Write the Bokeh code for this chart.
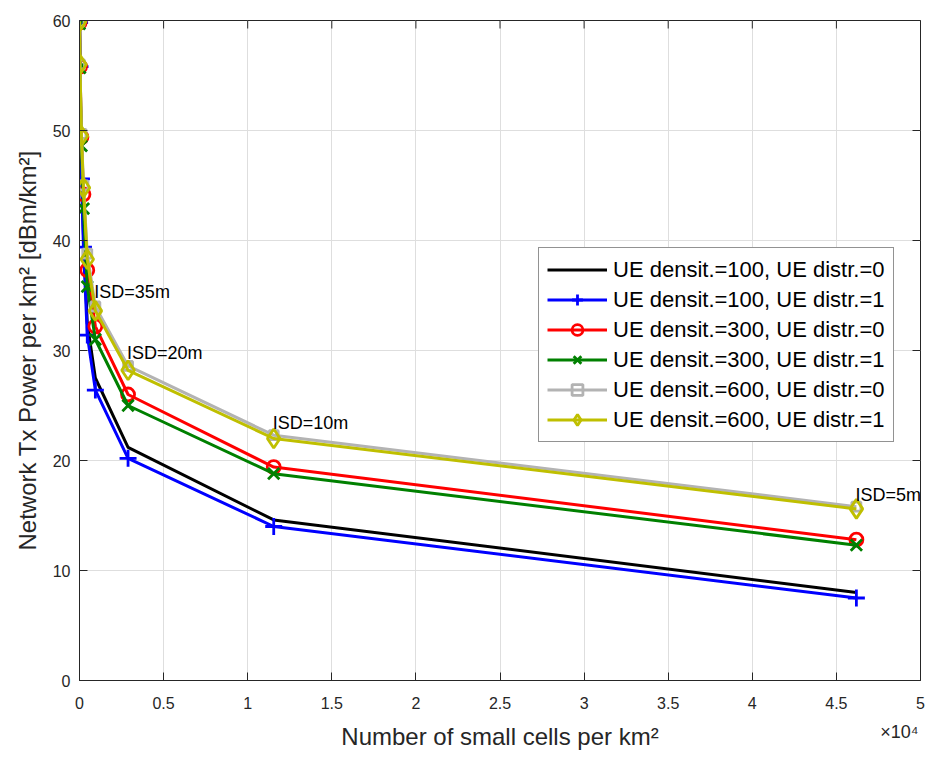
from math import pi
from bokeh.plotting import figure
from bokeh.models import (Range1d, FixedTicker, Legend, LegendItem, LinearAxis,
                          LabelSet, ColumnDataSource)
from bokeh.core.properties import value
from bokeh.embed import file_html
from bokeh.resources import INLINE

# ---------------- data ----------------
cells_per_km2 = [4.6, 28.9, 115.5, 235.7, 461.9, 942.6, 2886.8, 11547.0, 46188.0]

pw_100_d0 = [59.8, 55.8, 46.5, 40.5, 32.5, 27.5, 21.2, 14.6, 8.0]
pw_100_d1 = [59.8, 55.8, 45.6, 39.4, 31.4, 26.4, 20.2, 14.0, 7.5]
pw_300_d0 = [59.8, 55.8, 49.4, 44.2, 37.3, 32.2, 26.0, 19.4, 12.8]
pw_300_d1 = [59.7, 55.7, 48.6, 42.9, 35.8, 31.0, 25.0, 18.8, 12.3]
pw_600_d0 = [59.9, 56.0, 49.7, 45.0, 38.8, 34.0, 28.6, 22.3, 15.8]
pw_600_d1 = [59.9, 56.0, 49.5, 44.8, 38.3, 33.6, 28.2, 22.0, 15.6]

series_names = ["UE densit.=100, UE distr.=0", "UE densit.=100, UE distr.=1",
                "UE densit.=300, UE distr.=0", "UE densit.=300, UE distr.=1",
                "UE densit.=600, UE distr.=0", "UE densit.=600, UE distr.=1"]

isd_cells = [942.6, 2886.8, 11547.0, 46188.0]
isd_text = ["ISD=35m", "ISD=20m", "ISD=10m", "ISD=5m"]
isd_text_y = [35.3, 29.8, 23.4, 16.9]

x_ticks = [0, 0.5, 1, 1.5, 2, 2.5, 3, 3.5, 4, 4.5, 5]
x_tick_labels = ["0", "0.5", "1", "1.5", "2", "2.5", "3", "3.5", "4", "4.5", "5"]
y_ticks = [0, 10, 20, 30, 40, 50, 60]
x_scale = 1e4
x_exponent_text = "×10⁴"
x_label = "Number of small cells per km²"
y_label = "Network Tx Power per km² [dBm/km²]"
x_min, x_max, y_min, y_max = 0, 5, 0, 60

# ---------------- styles ----------------
FONT = "Liberation Sans"
AX = "#262626"
EXP_X = 4.875          # where the exponent text sits (axis units)
colors = ["#000000", "#0000ff", "#ff0000", "#008000", "#b3b3b3", "#bfbf00"]
markers = [None, "cross", "circle", "x", "square", "diamond"]
msizes = [0, 17, 13, 16, 9, 19]

p = figure(width=928, height=757, x_range=Range1d(x_min, x_max), y_range=Range1d(y_min, y_max),
           output_backend="svg", toolbar_location=None,
           min_border_left=79, min_border_right=8, min_border_top=20, min_border_bottom=77,
           y_axis_label=y_label)
p.background_fill_color = "white"
p.border_fill_color = "white"
p.outline_line_color = AX
p.outline_line_width = 1

xa = p.xaxis[0]
ya = p.yaxis[0]
for ax in (xa, ya):
    ax.axis_label_text_font = FONT
    ax.axis_label_text_font_size = "24px"
    ax.axis_label_text_font_style = "normal"
    ax.axis_label_text_color = AX
    ax.major_label_text_font = FONT
    ax.major_label_text_font_size = "16px"
    ax.major_label_text_color = AX
    ax.axis_line_color = AX
    ax.major_tick_line_color = AX
    ax.major_tick_in = 8
    ax.major_tick_out = 0
    ax.minor_tick_line_color = None

xa.ticker = FixedTicker(ticks=x_ticks)
xa.major_label_overrides = {t: l for t, l in zip(x_ticks, x_tick_labels)}
xa.major_label_standoff = 16
xa.axis_label = None
ya.ticker = FixedTicker(ticks=y_ticks)
ya.major_label_standoff = 9
ya.axis_label_standoff = 9

# second, line-less axis below: carries the "x10^4" exponent and the x-axis title
xa2 = LinearAxis(ticker=FixedTicker(ticks=[EXP_X]),
                 major_label_overrides={EXP_X: x_exponent_text},
                 major_label_text_font=FONT, major_label_text_font_size="18px",
                 major_label_text_color=AX, major_label_standoff=10,
                 axis_line_color=None, major_tick_line_color=None,
                 minor_tick_line_color=None, major_tick_in=0, major_tick_out=0,
                 axis_label=x_label, axis_label_text_font=FONT,
                 axis_label_text_font_size="24px", axis_label_text_font_style="normal",
                 axis_label_text_color=AX, axis_label_standoff=-22)
p.add_layout(xa2, "below")

p.xgrid.ticker = FixedTicker(ticks=x_ticks)
p.ygrid.ticker = FixedTicker(ticks=y_ticks)
p.xgrid.grid_line_color = "#dedede"
p.ygrid.grid_line_color = "#dedede"

# inward tick marks on the top and right edges of the box (half clipped by the frame)
p.scatter(x_ticks, [y_max] * len(x_ticks), marker="dash", angle=pi / 2, size=16,
          line_color=AX, line_width=1)
p.scatter([x_max] * len(y_ticks), y_ticks, marker="dash", size=16,
          line_color=AX, line_width=1)

xs = [c / x_scale for c in cells_per_km2]
all_series = [pw_100_d0, pw_100_d1, pw_300_d0, pw_300_d1, pw_600_d0, pw_600_d1]

items = []
for name, ys, col, mk, ms in zip(series_names, all_series, colors, markers, msizes):
    rs = [p.line(xs, ys, line_color=col, line_width=3)]
    if mk is not None:
        rs.append(p.scatter(xs, ys, marker=mk, size=ms, line_color=col,
                            fill_color=None, line_width=2.8))
    items.append(LegendItem(label=name, renderers=rs))

legend = Legend(items=items, location=(459, 238))
legend.label_text_font = FONT
legend.label_text_font_size = "22px"
legend.label_text_color = "black"
legend.glyph_width = 60
legend.glyph_height = 27
legend.label_height = 27
legend.label_standoff = 6
legend.spacing = 3
legend.padding = 8
legend.margin = 0
legend.border_line_color = AX
legend.border_line_width = 1
legend.background_fill_color = "white"
legend.background_fill_alpha = 1.0
p.add_layout(legend)

src = ColumnDataSource(dict(x=[c / x_scale for c in isd_cells], y=isd_text_y, t=isd_text))
p.add_layout(LabelSet(x="x", y="y", text="t", source=src, text_font=value(FONT),
                      text_font_size=value("18px"), text_color="black",
                      text_baseline="middle", text_align="left", x_offset=-1))

open("out.html", "w").write(file_html(p, INLINE))
